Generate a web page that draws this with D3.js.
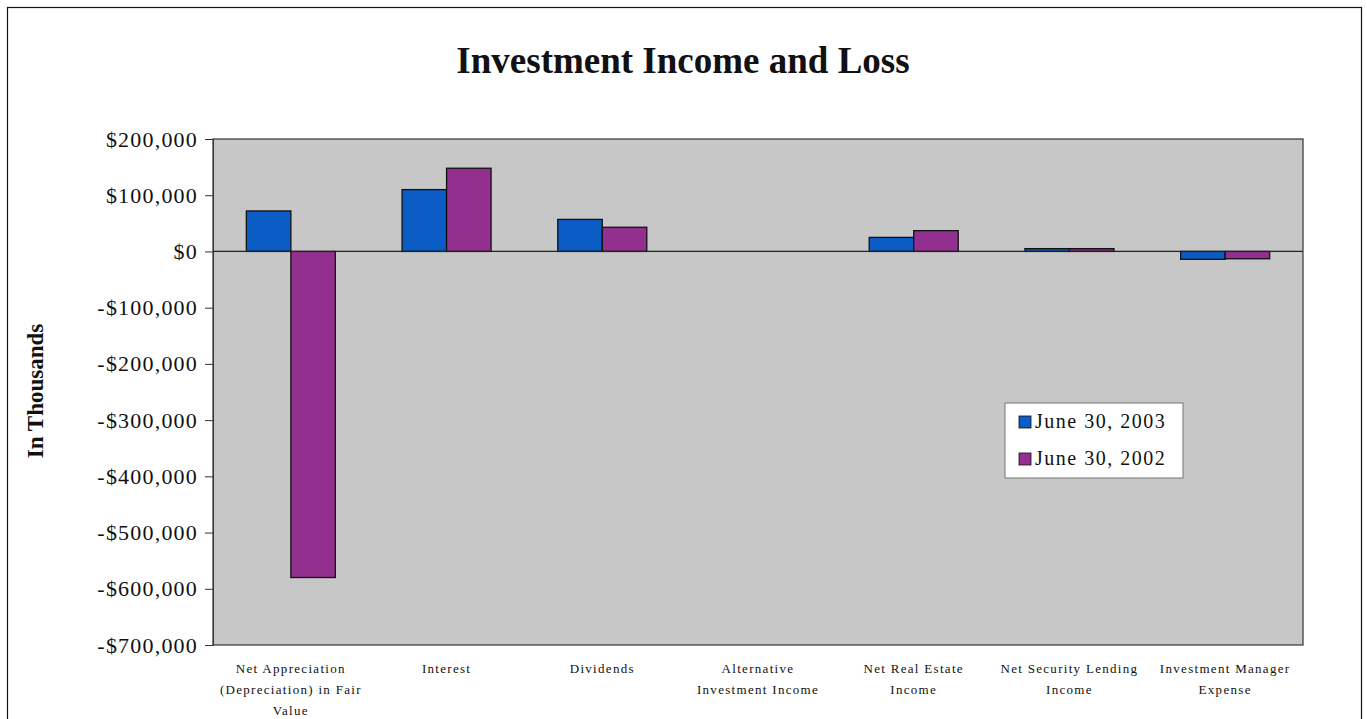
<!DOCTYPE html>
<html>
<head>
<meta charset="utf-8">
<script src="https://cdn.jsdelivr.net/npm/d3@7"></script>
<style>
  html, body { margin: 0; padding: 0; background: #ffffff; }
  svg { display: block; }
</style>
</head>
<body>
<svg id="chart" width="1367" height="719"></svg>
<script>
// Category labels, one array of wrapped lines per category
const categories = [
  ["Net Appreciation", "(Depreciation) in Fair", "Value"],
  ["Interest"],
  ["Dividends"],
  ["Alternative", "Investment Income"],
  ["Net Real Estate", "Income"],
  ["Net Security Lending", "Income"],
  ["Investment Manager", "Expense"]
];
const seriesNames = ["June 30, 2003", "June 30, 2002"];
const values2003 = [72000, 110000, 57000, 0, 25000, 5000, -14000];
const values2002 = [-580000, 148000, 43000, 0, 37000, 5000, -13000];
const yTicks = [200000, 100000, 0, -100000, -200000, -300000, -400000, -500000, -600000, -700000];

const colors = ["#0b5cc4", "#93308f"];
const serif = "'Liberation Serif', 'Times New Roman', serif";

const svg = d3.select("#chart");
const plot = { left: 213, right: 1303, top: 139, bottom: 645 };

// Outer frame
svg.append("rect")
  .attr("x", 7.5).attr("y", 7.5)
  .attr("width", 1354).attr("height", 720)
  .attr("fill", "#ffffff").attr("stroke", "#111").attr("stroke-width", 1.2);

// Title
svg.append("text")
  .attr("x", 683).attr("y", 73)
  .attr("text-anchor", "middle")
  .attr("font-family", serif).attr("font-weight", "bold").attr("font-size", 37)
  .attr("fill", "#111")
  .text("Investment Income and Loss");

const keys = categories.map((c, i) => i);
const x0 = d3.scaleBand().domain(keys).range([plot.left, plot.right]).padding(0);
const bw = x0.bandwidth();
const groupW = 89;
const x1 = d3.scaleBand().domain([0, 1]).range([(bw - groupW) / 2, (bw + groupW) / 2]);
const y = d3.scaleLinear().domain([200000, -700000]).range([plot.top, plot.bottom]);

// Plot area background
svg.append("rect")
  .attr("x", plot.left).attr("y", plot.top)
  .attr("width", plot.right - plot.left).attr("height", plot.bottom - plot.top)
  .attr("fill", "#c7c7c7");

// Bars (zero values draw nothing)
const series = [values2003, values2002];
series.forEach((vals, s) => {
  svg.append("g").selectAll("rect")
    .data(vals.map((v, i) => ({ v, i })).filter(d => d.v !== 0))
    .join("rect")
    .attr("x", d => x0(d.i) + x1(s))
    .attr("width", x1.bandwidth())
    .attr("y", d => y(Math.max(0, d.v)))
    .attr("height", d => Math.abs(y(d.v) - y(0)))
    .attr("fill", colors[s])
    .attr("stroke", "#111").attr("stroke-width", 1.3);
});

// Zero line
svg.append("line")
  .attr("x1", plot.left).attr("x2", plot.right)
  .attr("y1", y(0)).attr("y2", y(0))
  .attr("stroke", "#222").attr("stroke-width", 1.2);

// Plot border
svg.append("rect")
  .attr("x", plot.left).attr("y", plot.top)
  .attr("width", plot.right - plot.left).attr("height", plot.bottom - plot.top)
  .attr("fill", "none").attr("stroke", "#333").attr("stroke-width", 1.2);

// Y axis
const fmt = d3.format(",");
const yAxis = d3.axisLeft(y)
  .tickValues(yTicks)
  .tickSize(8)
  .tickFormat(v => (v < 0 ? "-$" : "$") + fmt(Math.abs(v)));
const ya = svg.append("g").attr("transform", `translate(${plot.left},0)`).call(yAxis);
ya.select(".domain").attr("stroke", "#333");
ya.selectAll(".tick line").attr("stroke", "#333");
ya.selectAll(".tick text")
  .attr("font-family", serif).attr("font-size", 22).attr("fill", "#111")
  .attr("letter-spacing", 1.2)
  .attr("x", -15);

// Y axis title
svg.append("text")
  .attr("transform", "translate(43,391) rotate(-90)")
  .attr("text-anchor", "middle")
  .attr("font-family", serif).attr("font-weight", "bold").attr("font-size", 23)
  .attr("fill", "#111")
  .text("In Thousands");

// X axis category labels
const xl = svg.append("g");
categories.forEach((lines, i) => {
  const t = xl.append("text")
    .attr("x", x0(i) + bw / 2).attr("y", 673)
    .attr("text-anchor", "middle")
    .attr("font-family", serif).attr("font-size", 13)
    .attr("letter-spacing", 1.3)
    .attr("fill", "#111");
  lines.forEach((ln, j) => {
    t.append("tspan").attr("x", x0(i) + bw / 2).attr("dy", j === 0 ? 0 : 21).text(ln);
  });
});

// Legend
const lg = svg.append("g").attr("transform", "translate(1005,403)");
lg.append("rect")
  .attr("width", 178).attr("height", 75)
  .attr("fill", "#ffffff").attr("stroke", "#777").attr("stroke-width", 1);
seriesNames.forEach((name, i) => {
  const row = lg.append("g").attr("transform", `translate(14,${25 + i * 37})`);
  row.append("rect")
    .attr("x", 0).attr("y", -12).attr("width", 12).attr("height", 12)
    .attr("fill", colors[i]).attr("stroke", "#111").attr("stroke-width", 0.8);
  row.append("text")
    .attr("x", 16).attr("y", 0)
    .attr("font-family", serif).attr("font-size", 20)
    .attr("letter-spacing", 1.5)
    .attr("fill", "#111")
    .text(name);
});
</script>
</body>
</html>
